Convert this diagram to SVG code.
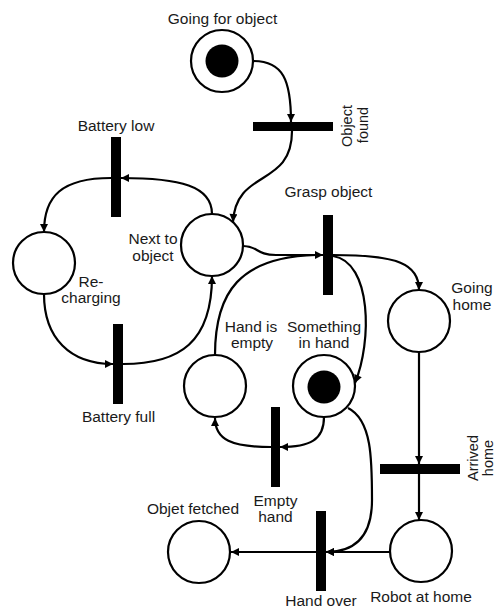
<svg xmlns="http://www.w3.org/2000/svg" width="496" height="612" viewBox="0 0 496 612">
  <style>
    .place { fill: #fff; stroke: #000; stroke-width: 2.2; }
    .token { fill: #000; }
    .trans { fill: #000; }
    .arc { fill: none; stroke: #000; stroke-width: 2.2; }
    .lbl { font-family: "Liberation Sans", Arial, sans-serif; font-size: 15.5px; fill: #1a1a1a; }
    .side { font-size: 14.5px; }
    .mid { text-anchor: middle; }
  </style>
  <defs>
    <marker id="arrow" viewBox="0 0 10 10" refX="10" refY="5" markerWidth="10" markerHeight="8" markerUnits="userSpaceOnUse" orient="auto">
      <path d="M0,0 L10,5 L0,10 z" fill="#000"/>
    </marker>
  </defs>

  <!-- arcs between places and transitions -->
  <g id="arcs">
    <path class="arc" marker-end="url(#arrow)" d="M253,61 C283,61 291,80 291,122"/>
    <path class="arc" marker-end="url(#arrow)" d="M292,131 C292,188 236,168 233,222"/>
    <path class="arc" marker-end="url(#arrow)" d="M212,214 C212,186 180,178 121,178"/>
    <path class="arc" marker-end="url(#arrow)" d="M111,178 C62,178 44,196 44,232"/>
    <path class="arc" marker-end="url(#arrow)" d="M44,294 C44,338 70,364 113,364"/>
    <path class="arc" marker-end="url(#arrow)" d="M123,364 C180,364 212,342 212,276"/>
    <path class="arc" marker-end="url(#arrow)" d="M243,246 C258,246 256,255 276,255 L323,255"/>
    <path class="arc" d="M215,355 C215,292 240,257 316,255"/>
    <path class="arc" marker-end="url(#arrow)" d="M333,255 C398,255 419,264 419,290"/>
    <path class="arc" marker-end="url(#arrow)" d="M333,256 C372,262 372,342 355,383"/>
    <path class="arc" marker-end="url(#arrow)" d="M324,417 C324,440 310,447 280,447"/>
    <path class="arc" marker-end="url(#arrow)" d="M271,447 C232,447 215,440 215,418"/>
    <path class="arc" marker-end="url(#arrow)" d="M419,352 L419,464"/>
    <path class="arc" marker-end="url(#arrow)" d="M419,474 L419,520"/>
    <path class="arc" marker-end="url(#arrow)" d="M390,552 L326,552"/>
    <path class="arc" marker-end="url(#arrow)" d="M348,408 C372,420 372,460 372,500 C372,540 352,552 326,552"/>
    <path class="arc" marker-end="url(#arrow)" d="M316,552 L231,552"/>
  </g>

  <!-- places -->
  <g id="going-for-object">
    <circle class="place" cx="222" cy="61" r="31"/>
    <circle class="token" cx="222" cy="61" r="16.5"/>
    <text class="lbl mid" x="222.5" y="24">Going for object</text>
  </g>
  <g id="next-to-object">
    <circle class="place" cx="212" cy="245" r="31"/>
    <text class="lbl mid" x="153" y="244">Next to</text>
    <text class="lbl mid" x="153" y="261">object</text>
  </g>
  <g id="recharging">
    <circle class="place" cx="44" cy="263" r="31"/>
    <text class="lbl mid" x="91" y="287">Re-</text>
    <text class="lbl mid" x="91" y="303">charging</text>
  </g>
  <g id="going-home">
    <circle class="place" cx="419" cy="321" r="31"/>
    <text class="lbl mid" x="472" y="293">Going</text>
    <text class="lbl mid" x="472" y="310">home</text>
  </g>
  <g id="hand-is-empty">
    <circle class="place" cx="215" cy="386" r="31"/>
    <text class="lbl mid" x="251" y="332">Hand is</text>
    <text class="lbl mid" x="252" y="348">empty</text>
  </g>
  <g id="something-in-hand">
    <circle class="place" cx="324" cy="386" r="31"/>
    <circle class="token" cx="324" cy="387" r="16.5"/>
    <text class="lbl mid" x="324" y="332">Something</text>
    <text class="lbl mid" x="324" y="348">in hand</text>
  </g>
  <g id="objet-fetched">
    <circle class="place" cx="199" cy="552" r="31"/>
    <text class="lbl mid" x="193" y="514">Objet fetched</text>
  </g>
  <g id="robot-at-home">
    <circle class="place" cx="421" cy="551" r="31"/>
    <text class="lbl mid" x="421" y="602">Robot at home</text>
  </g>

  <!-- transitions -->
  <g id="object-found">
    <rect class="trans" x="253" y="122" width="80" height="9"/>
    <text class="lbl side mid" transform="translate(352,126) rotate(-90)">Object</text>
    <text class="lbl side mid" transform="translate(368,125) rotate(-90)">found</text>
  </g>
  <g id="battery-low">
    <rect class="trans" x="111" y="137" width="10" height="80"/>
    <text class="lbl mid" x="116" y="131">Battery low</text>
  </g>
  <g id="grasp-object">
    <rect class="trans" x="323" y="215" width="10" height="80"/>
    <text class="lbl mid" x="328.5" y="197">Grasp object</text>
  </g>
  <g id="battery-full">
    <rect class="trans" x="113" y="324" width="10" height="80"/>
    <text class="lbl mid" x="118.5" y="422">Battery full</text>
  </g>
  <g id="empty-hand">
    <rect class="trans" x="271" y="407" width="9" height="80"/>
    <text class="lbl mid" x="275.5" y="506">Empty</text>
    <text class="lbl mid" x="275.5" y="522">hand</text>
  </g>
  <g id="arrived-home">
    <rect class="trans" x="380" y="464" width="80" height="10"/>
    <text class="lbl side mid" transform="translate(478,458) rotate(-90)">Arrived</text>
    <text class="lbl side mid" transform="translate(493,458) rotate(-90)">home</text>
  </g>
  <g id="hand-over">
    <rect class="trans" x="316" y="511" width="10" height="80"/>
    <text class="lbl mid" x="321" y="606">Hand over</text>
  </g>
</svg>
